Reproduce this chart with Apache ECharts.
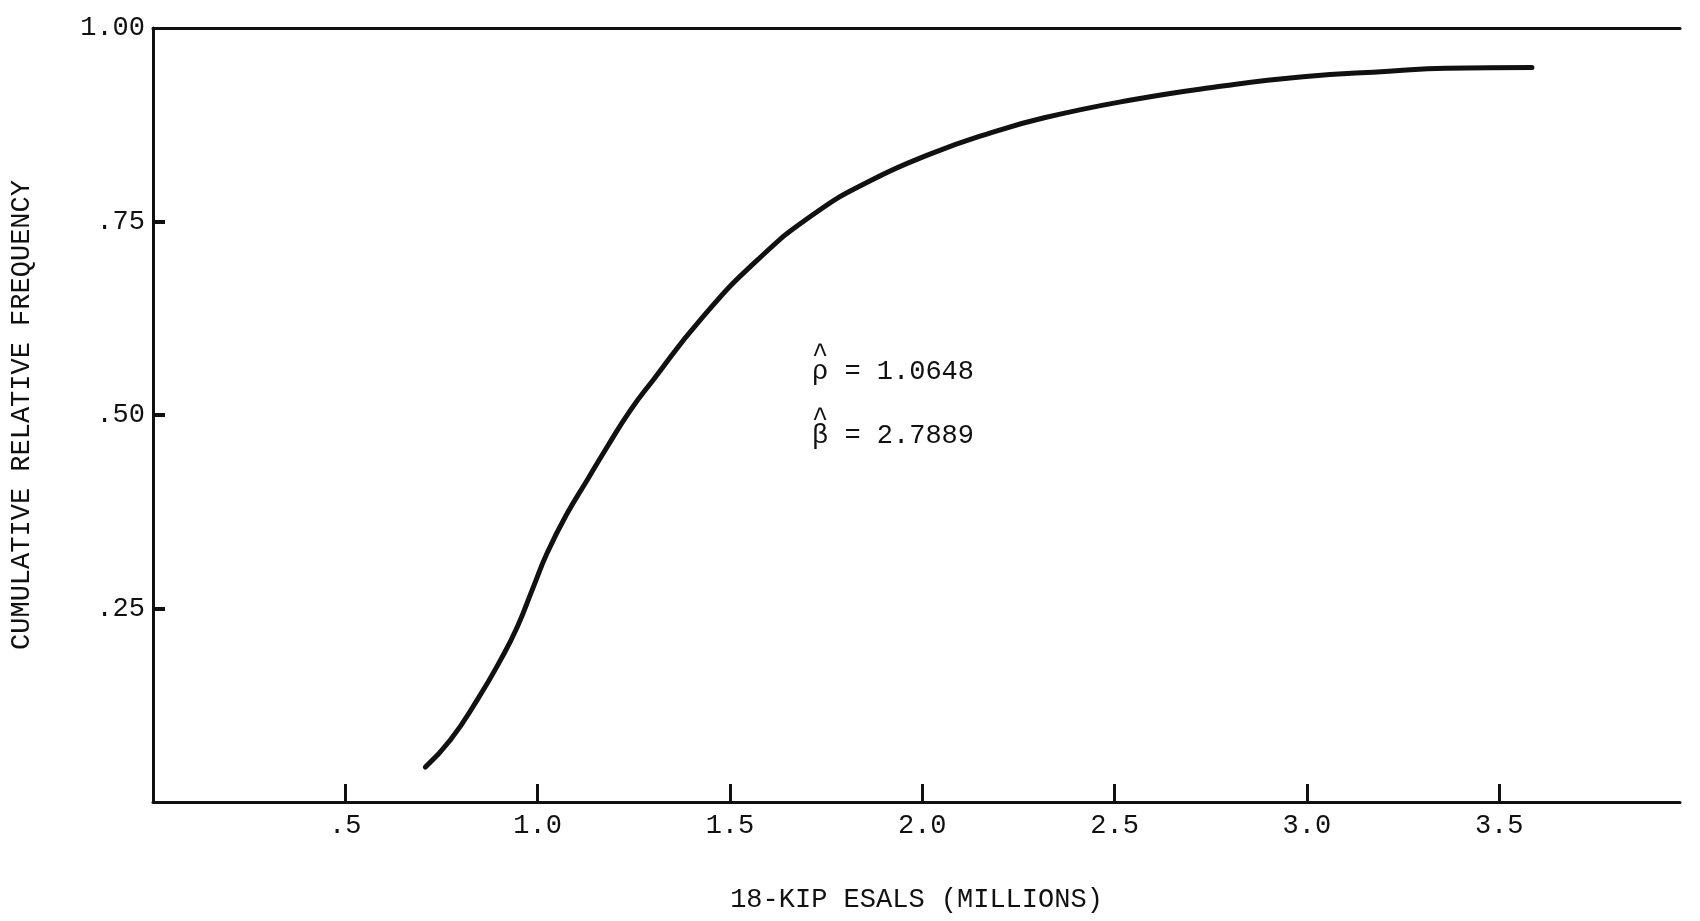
<!DOCTYPE html>
<html>
<head>
<meta charset="utf-8">
<script src="https://cdn.jsdelivr.net/npm/echarts@6/dist/echarts.min.js"></script>
<style>
  html, body { margin: 0; padding: 0; background: #fff; }
  #chart { width: 1700px; height: 921px; }
</style>
</head>
<body>
<div id="chart"></div>
<script>
// Curve
const esals = [0.708, 0.773, 0.843, 0.903, 0.947, 0.989, 1.025, 1.077, 1.129, 1.181, 1.241, 1.300, 1.423, 1.571, 1.722, 1.870, 2.020, 2.168, 2.317, 2.543, 2.766, 2.990, 3.213, 3.361, 3.585];
const cumFreq = [0.045, 0.080, 0.132, 0.183, 0.226, 0.278, 0.322, 0.373, 0.416, 0.459, 0.506, 0.545, 0.623, 0.700, 0.761, 0.804, 0.837, 0.863, 0.884, 0.907, 0.924, 0.937, 0.944, 0.948, 0.949];

// Tick values and labels
const xTickValues = [0.5, 1.0, 1.5, 2.0, 2.5, 3.0, 3.5];
const xTickLabels = ['.5', '1.0', '1.5', '2.0', '2.5', '3.0', '3.5'];
const yTickValues = [0.25, 0.5, 0.75];
const yLabelValues = [0.25, 0.5, 0.75, 1.0];
const yTickLabels = ['.25', '.50', '.75', '1.00'];

const xTitle = '18-KIP ESALS (MILLIONS)';
const yTitle = 'CUMULATIVE RELATIVE FREQUENCY';
const paramSymbols = ['\u03C1', '\u03B2'];
const paramValues = ['1.0648', '2.7889'];

const FONT = 'Liberation Mono';
const INK = '#111';

const chart = echarts.init(document.getElementById('chart'), null, { renderer: 'canvas' });

function lookup(values, labels, v) {
  for (let i = 0; i < values.length; i++) {
    if (Math.abs(values[i] - v) < 1e-6) return labels[i];
  }
  return '';
}

const seriesData = esals.map((x, i) => [x, cumFreq[i]]);

function paramText(i, top) {
  return {
    type: 'text', left: 812, top: top,
    style: {
      text: '^\n' + paramSymbols[i] + ' = ' + paramValues[i],
      font: '27px "' + FONT + '"', fill: INK, lineHeight: 17
    }
  };
}

chart.setOption({
  backgroundColor: '#fff',
  animation: false,
  grid: { left: 153, right: 20, top: 28, bottom: 119 },
  xAxis: [
    {
      type: 'value', min: 0, max: 3.97, position: 'bottom',
      name: xTitle, nameLocation: 'middle', nameGap: 84,
      nameTextStyle: { fontFamily: FONT, fontSize: 27, color: INK },
      axisLine: { show: true, onZero: false, lineStyle: { color: INK, width: 3 } },
      axisTick: { show: true, inside: true, length: 18, customValues: xTickValues, lineStyle: { color: INK, width: 3 } },
      axisLabel: { show: true, customValues: xTickValues, margin: 10, fontFamily: FONT, fontSize: 27, color: INK,
        formatter: v => lookup(xTickValues, xTickLabels, v) },
      splitLine: { show: false }
    },
    {
      type: 'value', min: 0, max: 3.97, position: 'top',
      axisLine: { show: true, onZero: false, lineStyle: { color: INK, width: 3 } },
      axisTick: { show: false }, axisLabel: { show: false }, splitLine: { show: false }
    }
  ],
  yAxis: {
    type: 'value', min: 0, max: 1,
    name: yTitle, nameLocation: 'middle', nameGap: 118, nameRotate: 90,
    nameTextStyle: { fontFamily: FONT, fontSize: 27, color: INK },
    axisLine: { show: true, onZero: false, lineStyle: { color: INK, width: 3 } },
    axisTick: { show: true, inside: true, length: 12, customValues: yTickValues, lineStyle: { color: INK, width: 4 } },
    axisLabel: { show: true, customValues: yLabelValues, margin: 8, fontFamily: FONT, fontSize: 27, color: INK,
      formatter: v => lookup(yLabelValues, yTickLabels, v) },
    splitLine: { show: false }
  },
  graphic: [ paramText(0, 341), paramText(1, 405) ],
  series: [{
    type: 'line', xAxisIndex: 0, data: seriesData, smooth: 0.5,
    showSymbol: false, symbol: 'none',
    lineStyle: { color: INK, width: 5, cap: 'round' }
  }]
});
</script>
</body>
</html>
